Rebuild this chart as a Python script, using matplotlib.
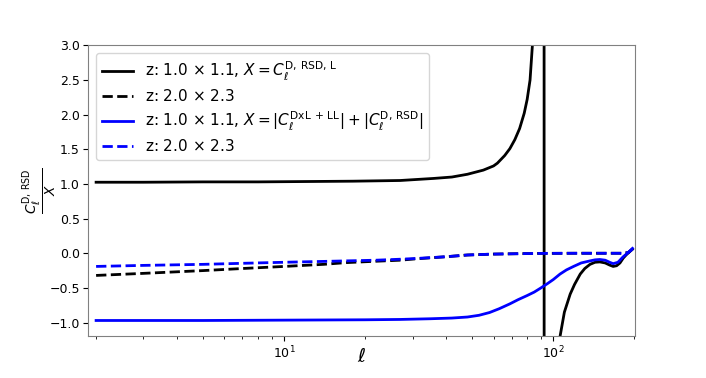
import matplotlib.pyplot as plt

# z: 1.0 x 1.1, X = C_l^{D,RSD,L}  (pole near l ~ 92.5)
ell_a = [2, 3, 5, 8, 12, 18, 27, 36, 42, 48, 55, 60, 62, 66, 69, 72, 75, 78, 80, 82, 84, 86, 88, 90, 92,
         93, 95, 98, 102, 106, 110, 115.6, 120, 126, 131, 137, 143, 149, 156, 162, 167, 172, 177, 182, 187, 192, 197]
ratio_a = [1.025, 1.025, 1.03, 1.03, 1.035, 1.04, 1.05, 1.08, 1.10, 1.14, 1.20, 1.26, 1.30, 1.41, 1.51, 1.64, 1.80, 2.02, 2.22, 2.5, 3.1, 4.0, 6.0, 12.0, 60.0,
           -60.0, -15.0, -5.0, -2.2, -1.2, -0.85, -0.59, -0.45, -0.30, -0.22, -0.16, -0.13, -0.125, -0.14, -0.17, -0.19, -0.18, -0.14, -0.07, -0.02, 0.02, 0.06]

# z: 2.0 x 2.3, X = C_l^{D,RSD,L}
ell_b = [2, 3, 5, 7, 10, 14, 17, 22, 27, 31, 40, 48, 60, 75, 90, 120, 150, 180, 190, 197]
ratio_b = [-0.32, -0.29, -0.25, -0.22, -0.19, -0.16, -0.135, -0.115, -0.10, -0.08, -0.05, -0.025, -0.012, -0.006, -0.002, 0.0, 0.0, 0.0, 0.01, 0.06]

# z: 1.0 x 1.1, X = |C_l^{DxL+LL}| + |C_l^{D,RSD}|
ell_c = [2, 5, 10, 20, 27, 35, 42, 48, 53, 58, 63, 69, 74, 80, 85, 90, 95, 100, 106, 112, 119, 127, 137, 143, 149, 156, 162, 167, 174, 182, 190, 197]
ratio_c = [-0.97, -0.97, -0.965, -0.96, -0.955, -0.945, -0.935, -0.92, -0.895, -0.855, -0.80, -0.73, -0.67, -0.61, -0.56, -0.50, -0.44, -0.38, -0.30, -0.24, -0.19, -0.14, -0.11, -0.095, -0.09, -0.10, -0.13, -0.15, -0.13, -0.05, 0.01, 0.07]

# z: 2.0 x 2.3, X = |C_l^{DxL+LL}| + |C_l^{D,RSD}|
ell_d = [2, 3, 5, 7, 10, 15, 22, 27, 31, 40, 48, 60, 75, 90, 120, 150, 180, 190, 197]
ratio_d = [-0.19, -0.175, -0.16, -0.145, -0.13, -0.115, -0.10, -0.086, -0.075, -0.05, -0.025, -0.012, -0.006, -0.002, 0.0, 0.0, 0.0, 0.01, 0.06]

labels = [
    r'z: 1.0 $\times$ 1.1, $X = C_\ell^{\rm D,\,RSD,\,L}$',
    r'z: 2.0 $\times$ 2.3',
    r'z: 1.0 $\times$ 1.1, $X = |C_\ell^{\rm DxL\,+\,LL}| + |C_\ell^{\rm D,\,RSD}|$',
    r'z: 2.0 $\times$ 2.3',
]

fig, ax = plt.subplots(figsize=(7.06, 3.78), dpi=100)

ax.plot(ell_a, ratio_a, color='black', lw=2, ls='-', label=labels[0])
ax.plot(ell_b, ratio_b, color='black', lw=2, ls='--', label=labels[1])
ax.plot(ell_c, ratio_c, color='blue', lw=2, ls='-', label=labels[2])
ax.plot(ell_d, ratio_d, color='blue', lw=2, ls='--', label=labels[3])

ax.set_xscale('log')
ax.set_xlim(1.87, 202)
ax.set_ylim(-1.2, 3.0)

ax.set_xlabel(r'$\ell$', fontsize=14)
ax.set_ylabel(r'$\frac{C_\ell^{\rm D,\,RSD}}{X}$', fontsize=14)
ax.xaxis.set_label_coords(0.5, -0.035)
ax.yaxis.set_label_coords(-0.052, 0.5)
ax.tick_params(labelsize=9, pad=2.5)
for sp in ax.spines.values():
    sp.set_color('gray')

ax.legend(loc='upper left', fontsize=11, labelspacing=0.35)

fig.savefig('out.png', dpi=100)
